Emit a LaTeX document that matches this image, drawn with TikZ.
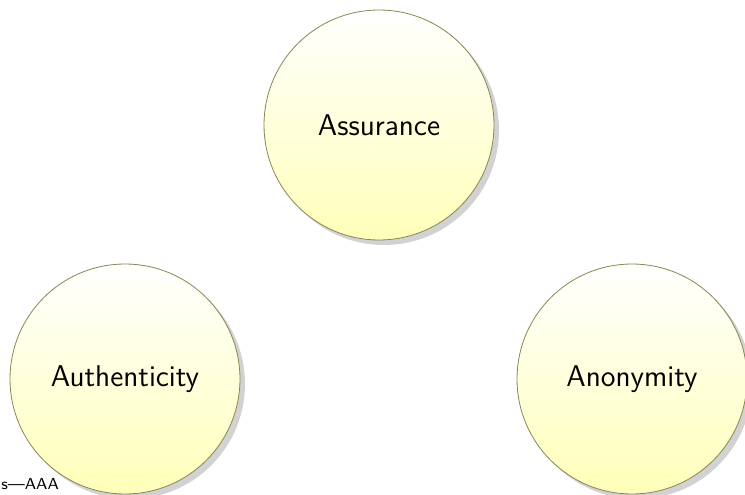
\documentclass[tikz,border=0pt]{standalone}
\usepackage{tikz}
\usetikzlibrary{shadows,positioning}
\renewcommand{\familydefault}{\sfdefault}

\definecolor{bordeoliva}{RGB}{140,132,80}
\definecolor{amarillo}{RGB}{255,255,185}

\tikzset{
  valor/.style={circle, draw=bordeoliva, thin, minimum size=115pt, inner sep=0pt,
    top color=white, bottom color=amarillo, font=\fontsize{15}{18}\selectfont,
    drop shadow={shadow xshift=2.5pt, shadow yshift=-2.5pt, fill=black!35}}
}

\begin{document}
\begin{tikzpicture}[x=0.5pt, y=0.5pt]
\useasboundingbox (0,0) rectangle (745,494);

% Circulo superior
\node[valor] (Assur) at (379,369) {Assurance};

% Circulos inferiores
\node[valor] (Authe) at (125,115) {Authenticity};
\node[valor] (Anony) at (632,115) {Anonymity};

% Etiqueta abajo a la izquierda
\node[anchor=base west, inner sep=0pt, font=\footnotesize] (etiq) at (1,5) {s---AAA};

\end{tikzpicture}
\end{document}
